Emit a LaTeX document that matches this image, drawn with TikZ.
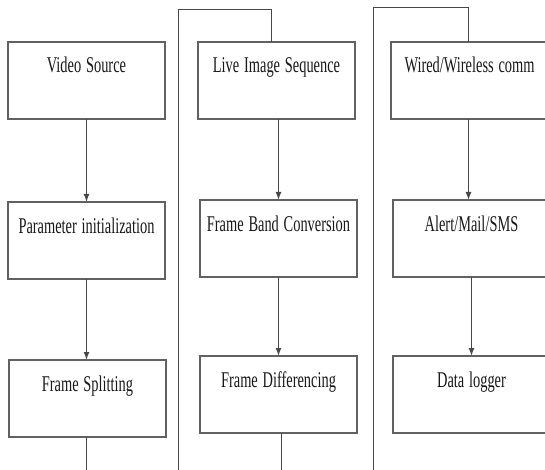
\documentclass[tikz,border=0pt]{standalone}
\usepackage{fontspec}
\setmainfont{Liberation Serif}
\usetikzlibrary{arrows.meta}
\newcommand{\boxtxt}[1]{\scalebox{0.64}[1]{#1}}
\begin{document}
\begin{tikzpicture}[x=1pt,y=-1pt,
  stage/.style={draw=black!62,line width=2pt,rectangle,inner sep=0pt,outer sep=0pt,
    minimum width=157pt,text width=157pt,align=center,text height=31pt,text depth=46pt,
    font=\fontsize{22.5}{26}\selectfont,text=black!90},
  flow/.style={draw=black!72,line width=1.5pt},
  arr/.style={flow,-{Latex[length=8pt,width=6pt]}}]
\useasboundingbox (0,0) rectangle (545,470);
\clip (0,0) rectangle (545,470);
\fill[white] (0,0) rectangle (545,470);
% column 1
\node[stage] (vs) at (86.5,80.5) {\boxtxt{Video Source}};
\node[stage] (pi) at (86.5,240.5) {\boxtxt{Parameter initialization}};
\node[stage] (fs) at (87.5,398.5) {\boxtxt{Frame Splitting}};
% column 2
\node[stage] (li) at (276.5,80.5) {\boxtxt{Live Image Sequence}};
\node[stage] (fb) at (278.5,238.5) {\boxtxt{Frame Band Conversion}};
\node[stage] (fd) at (278.5,394.5) {\boxtxt{Frame Differencing}};
% column 3
\node[stage] (wc) at (469.5,80.5) {\boxtxt{Wired/Wireless comm}};
\node[stage] (am) at (471.5,238.5) {\boxtxt{Alert/Mail/SMS}};
\node[stage] (dl) at (471.5,394.5) {\boxtxt{Data logger}};
% coordinates for free ends
\coordinate (e1) at (86.5,480);
\coordinate (c2b) at (178.5,480);
\coordinate (c2t) at (271.5,9.5);
\coordinate (e2) at (281.5,480);
\coordinate (c3b) at (373.5,480);
\coordinate (c3t) at (468.5,7.5);
% arrows within columns
\draw[arr] (vs.south) -- (pi.north);
\draw[arr] (pi.south) -- (fs.north -| pi.south);
\draw[arr] (fb.north |- li.south) -- (fb.north);
\draw[arr] (fd.north |- fb.south) -- (fd.north);
\draw[arr] (wc.south -| c3t) -- (am.north -| c3t);
\draw[arr] (am.south) -- (dl.north);
% links between columns
\draw[flow] (fs.south -| e1) -- (e1);
\draw[flow] (c2b) |- (c2t) -- (c2t |- li.north);
\draw[flow] (fd.south -| e2) -- (e2);
\draw[flow] (c3b) |- (c3t) -- (c3t |- wc.north);
\end{tikzpicture}
\end{document}
